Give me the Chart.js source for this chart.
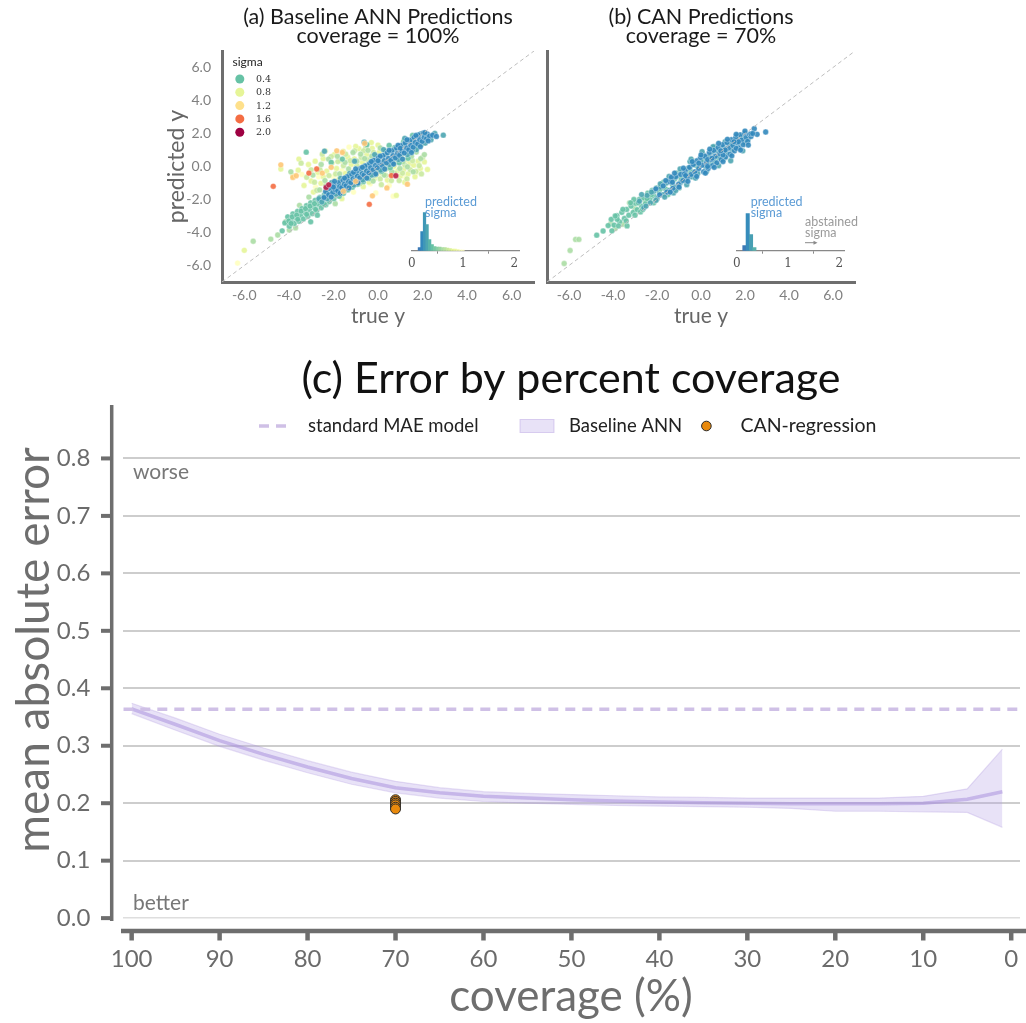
<!DOCTYPE html>
<html><head><meta charset="utf-8">
<script src="https://cdn.jsdelivr.net/npm/chart.js@4.4.1/dist/chart.umd.min.js"></script>
<style>
html,body{margin:0;padding:0;background:#fff;}
body{width:1026px;height:1023px;position:relative;overflow:hidden;}
canvas{position:absolute;}
</style></head><body>
<canvas id="ca" width="380" height="330" style="left:160px;top:0px;width:380px;height:330px"></canvas>
<canvas id="cb" width="330" height="330" style="left:540px;top:0px;width:330px;height:330px"></canvas>
<canvas id="ha" width="140" height="80" style="left:395px;top:190px;width:140px;height:80px"></canvas>
<canvas id="hb" width="140" height="80" style="left:720px;top:190px;width:140px;height:80px"></canvas>
<canvas id="cc" width="1026" height="683" style="left:0px;top:340px;width:1026px;height:683px"></canvas>
<script>
// ===================== DATA =====================
// Panels (a)/(b): axis ticks
const scatterTicks = [-6, -4, -2, 0, 2, 4, 6];
const diagonal = [-7, 7];
const sigmaLegend = [0.4, 0.8, 1.2, 1.6, 2.0];

// Panel (a): [true y, predicted y] pairs, grouped by predicted sigma
const aPts19 = [[-2.33,-1.27],[-2.21,-1.11],[0.8,-0.56]];
const aPts16 = [[-4.7,-1.2],[-0.39,-2.29],[-2.75,-0.15],[0.6,-0.55],[-3.1,-0.4]];
const aPts13 = [[-3.82,-0.66],[-3.67,-0.56],[-2.1,-0.05],[-1.0,-0.9],[-0.25,-1.78],[-0.6,1.4],[0.4,-1.3],[1.32,-1.07],[-1.55,-1.5],[-2.5,-0.4],[-1.85,0.95],[-1.6,0.85],[-4.36,0.1]];
const aPts02 = [[-2.42,-1.88],[-2.35,-1.52],[-2.21,-1.71],[-2.16,-1.33],[-2.03,-1.58],[-1.97,-1.12],[-1.92,-1.41],[-1.81,-1.47],[-1.76,-0.98],[-1.72,-1.22],[-1.63,-1.28],[-1.57,-0.83],[-1.51,-1.07],[-1.43,-1.16],[-1.38,-0.62],[-1.33,-0.91],[-1.22,-0.98],[-1.18,-0.47],[-1.12,-0.74],[-1.03,-0.83],[-0.97,-0.33],[-0.93,-0.58],[-0.82,-0.68],[-0.78,-0.12],[-0.71,-0.43],[-0.63,-0.52],[-0.58,0.03],[-0.52,-0.27],[-0.41,-0.38],[-0.37,0.18],[-0.33,-0.08],[-0.22,-0.21],[-0.18,0.37],[-0.12,0.07],[-0.03,-0.07],[0.02,0.52],[0.07,0.23],[0.18,0.08],[0.23,0.66],[0.28,0.36],[0.38,0.22],[0.42,0.83],[0.47,0.49],[0.58,0.37],[0.62,0.96],[0.67,0.66],[0.78,0.52],[0.83,1.12],[0.88,0.79],[0.97,0.68],[1.02,1.27],[1.07,0.94],[1.18,0.82],[1.22,1.42],[1.28,1.12],[1.38,1.02],[1.43,1.58],[1.47,1.29],[1.58,1.17],[1.62,1.76],[1.67,1.46],[1.78,1.36],[1.82,1.91],[1.87,1.62],[1.98,1.52],[2.03,2.02],[2.07,1.77],[2.18,1.69],[2.22,1.96],[2.31,1.84],[2.45,1.9],[2.62,1.82],
  [-2.3,-1.25],[-2.1,-1.85],[-1.95,-0.9],[-1.7,-1.62],[-1.5,-0.7],[-1.3,-1.3],[-1.1,-0.35],[-0.9,-1.0],[-0.7,-0.05],[-0.5,-0.7],[-0.3,0.3],[-0.1,-0.45],[0.1,0.62],[0.3,-0.15],[0.5,0.98],[0.7,0.15],[0.9,1.28],[1.1,0.45],[1.3,1.62],[1.5,0.85],[1.7,1.88],[1.9,1.2],[2.1,2.05],[2.25,1.55],[-1.0,-0.15],[0.0,0.35],[1.0,1.1],[-2.0,-1.25]];
const aPts03 = [[-2.65,-1.95],[-2.52,-2.15],[-2.28,-1.95],[-2.08,-0.98],[-1.88,-1.68],[-1.68,-0.72],[-1.47,-1.35],[-1.27,-0.42],[-1.08,-1.12],[-0.88,-0.22],[-0.68,-0.82],[-0.48,0.08],[-0.28,-0.52],[-0.08,0.38],[0.12,-0.22],[0.32,0.72],[0.52,0.12],[0.72,1.02],[0.92,0.42],[1.12,1.32],[1.32,0.72],[1.52,1.62],[1.72,1.02],[1.92,1.98],[2.12,1.42],[2.38,1.62],[2.55,2.0],[2.93,1.9],[-2.4,0.93],[-0.62,1.47],[-1.05,0.32],[0.25,1.02],[1.2,1.7],[-0.15,0.72],[0.65,0.25],[1.55,0.98]];
const aPts04 = [[-4.18,-3.42],[-4.05,-3.05],[-3.98,-3.62],[-3.91,-3.28],[-3.82,-2.88],[-3.76,-3.45],[-3.68,-3.1],[-3.61,-2.72],[-3.55,-3.32],[-3.47,-2.95],[-3.41,-2.55],[-3.35,-3.18],[-3.28,-2.78],[-3.21,-2.38],[-3.15,-3.02],[-3.08,-2.62],[-3.02,-2.2],[-2.95,-2.85],[-2.88,-2.45],[-2.82,-2.05],[-2.75,-2.68],[-2.68,-2.28],[-2.61,-1.88],[-2.55,-2.5],[-2.48,-2.12],[-2.41,-1.72],[-2.34,-2.32],[-2.27,-1.58],[-2.19,-2.12],[-2.12,-1.82],[-2.05,-1.45],[-1.98,-1.95],[-1.9,-1.62],[-1.82,-1.25],[-1.74,-1.8],[-1.66,-1.45],[-1.55,-1.62],[-1.45,-0.78],[-1.36,-1.42],[-1.25,-0.62],[-1.15,-1.25],[-1.02,-0.45],[-0.92,-1.08],[-0.8,-0.28],[-0.66,-0.92],[-0.55,-0.05],[-0.42,-0.72],[-0.3,0.22],[-0.15,-0.5],[0.0,0.6],[0.15,-0.3],[0.35,0.92],[0.55,-0.08],[0.75,1.15],[0.95,0.22],[1.15,1.5],[1.35,0.5],[1.55,1.88],[1.75,1.22],[1.95,1.35],[-3.22,0.87],[-0.5,1.32],[-1.6,0.45],[-2.1,0.25],[0.5,1.28],[-3.02,-3.35],[-2.72,-2.95],[-4.3,-3.9],
  [-4.0,-3.3],[-3.85,-3.05],[-3.65,-2.95],[-3.45,-2.7],[-3.25,-2.55],[-3.05,-2.4],[-2.85,-2.25],[-2.65,-2.05],[-2.45,-1.9],[-2.25,-1.75],[-3.6,-3.2],[-3.2,-2.9],[-2.8,-2.6],[-2.4,-2.3],[-2.0,-1.75],[-1.8,-1.55],[-1.6,-1.2],[-3.9,-3.45]];
const aPts06 = [[-4.5,-4.15],[-4.81,-4.4],[-5.6,-4.53],[-4.14,-3.34],[-3.98,-3.85],[-3.91,-0.32],[-3.52,-2.35],[-3.1,-1.85],[-2.92,-0.52],[-2.62,-1.42],[-2.55,0.12],[-2.38,-0.85],[-2.22,0.45],[-2.02,-1.02],[-1.82,0.62],[-1.72,-0.45],[-1.48,0.25],[-1.32,-0.15],[-1.12,0.85],[-0.95,0.32],[-0.78,0.75],[-0.6,0.48],[-0.45,0.98],[-0.28,0.62],[0.1,1.12],[0.28,-0.52],[0.45,0.82],[0.62,-0.32],[0.82,0.52],[0.98,-0.12],[1.12,0.28],[1.32,-0.02],[1.5,0.62],[1.58,-0.32],[1.72,0.88],[1.92,0.48],[2.08,0.72],[-0.22,-0.88],[-1.92,-2.25],[-3.7,-3.72]];
const aPts07 = [[-3.0,-0.2],[-2.85,-0.95],[-2.6,-0.2],[-2.5,0.75],[-2.35,-1.15],[-2.2,-0.55],[-2.1,0.6],[-1.9,-0.45],[-1.8,0.3],[-1.7,-1.1],[-1.55,0.05],[-1.45,0.75],[-1.35,-0.75],[-1.25,0.35],[-1.15,-0.95],[-1.05,0.95],[-0.95,0.05],[-0.8,-1.05],[-0.75,0.55],[-0.6,-0.3],[-0.55,1.15],[-0.45,0.4],[-0.35,-0.6],[-0.2,0.85],[-0.1,-0.3],[0.1,-0.75],[0.2,0.25],[0.35,-0.55],[0.5,-0.1],[0.6,-0.85],[0.75,-0.4],[0.85,0.3],[0.95,-0.85],[1.1,-0.4],[1.2,0.1],[1.3,-0.75],[1.45,-0.2],[1.55,0.35],[1.7,-0.3],[1.85,0.05],[1.95,-0.45],[2.0,0.55],[-3.2,-0.65],[-3.45,0.2],[-2.75,-1.45],[-0.65,0.95],[0.15,-1.1]];
const aPts08 = [[-6.0,-5.08],[-4.36,-0.15],[-3.82,-0.55],[-3.58,-0.22],[-3.32,-1.15],[-3.12,0.12],[-3.0,-0.88],[-2.82,0.32],[-2.7,-0.35],[-2.56,-1.02],[-2.46,0.48],[-2.3,-0.28],[-2.16,-1.15],[-2.06,0.22],[-1.96,0.72],[-1.86,-0.12],[-1.76,-0.78],[-1.66,0.36],[-1.56,0.92],[-1.46,-0.42],[-1.36,0.56],[-1.26,-1.28],[-1.2,0.12],[-1.06,0.46],[-0.9,-0.22],[-0.86,1.08],[-0.7,0.26],[-0.66,-1.22],[-0.5,0.72],[-0.4,-0.95],[-0.26,1.1],[-0.16,-0.72],[-0.06,-0.55],[0.05,0.85],[0.18,-0.42],[0.35,-0.15],[0.42,-0.82],[0.55,0.22],[0.66,-0.52],[0.72,0.02],[0.9,-0.25],[1.0,-0.58],[1.05,0.62],[1.15,-0.18],[1.25,0.38],[1.35,-0.45],[1.42,0.18],[1.6,0.08],[1.66,-0.62],[1.8,0.32],[1.9,-0.12],[2.08,0.28],[2.22,-0.18],[-2.9,-1.55],[-1.62,-1.95],[0.82,-1.75],[-0.3,1.45],[0.0,1.3],[-1.0,1.22],[-3.55,0.45],[-2.45,-0.62],[0.28,0.15],[1.2,-0.95],[-0.95,-0.58]];
const aPts10 = [[-6.3,-5.85],[-3.42,-0.48],[-2.66,-0.62],[-2.35,0.95],[-2.0,-0.62],[-1.62,-0.25],[-1.3,1.18],[-1.1,-0.42],[-0.82,0.05],[-0.55,-0.05],[-0.35,-1.05],[0.15,0.48],[0.3,-0.45],[0.7,-0.15],[1.2,-0.6],[1.45,0.0],[1.75,-0.35],[-2.8,-1.25],[-0.1,-1.6],[0.5,-1.15],[-1.1,-1.55],[0.68,-1.8]];
const aSigmas = [1.9, 1.6, 1.3, 0.2, 0.3, 0.4, 0.6, 0.7, 0.8, 1.0];          // top -> bottom draw order
const aGroups = [aPts19, aPts16, aPts13, aPts02, aPts03, aPts04, aPts06, aPts07, aPts08, aPts10];

// Panel (b)
const bPts02 = [[-2.05,-1.35],[-1.88,-1.72],[-1.72,-1.18],[-1.55,-1.55],[-1.42,-0.92],[-1.28,-1.32],[-1.15,-0.62],[-1.02,-1.08],[-0.92,-0.48],[-0.82,-0.85],[-0.72,-0.25],[-0.62,-0.65],[-0.52,-0.05],[-0.45,-0.48],[-0.35,0.12],[-0.28,-0.32],[-0.18,0.35],[-0.1,-0.12],[-0.02,0.55],[0.05,0.08],[0.12,-0.32],[0.18,0.62],[0.25,0.22],[0.32,-0.12],[0.38,0.85],[0.45,0.42],[0.52,0.05],[0.58,0.98],[0.65,0.62],[0.72,0.22],[0.78,1.15],[0.85,0.78],[0.92,0.42],[0.98,1.32],[1.05,0.95],[1.12,0.58],[1.18,1.45],[1.25,1.12],[1.32,0.75],[1.38,1.62],[1.45,1.28],[1.52,0.95],[1.58,1.75],[1.65,1.45],[1.72,1.12],[1.78,1.92],[1.85,1.6],[1.92,1.32],[1.98,2.02],[2.05,1.75],[2.12,1.52],[2.2,1.95],[2.27,1.82],[2.42,2.29],[2.27,1.98],[2.55,1.95],[2.94,2.09],[-1.35,-0.65],[-0.75,-0.45],[0.3,0.42],[1.0,0.7],[1.6,1.1],
  [-1.6,-0.85],[-1.4,-1.55],[-1.2,-0.4],[-1.0,-1.25],[-0.8,-0.1],[-0.6,-0.9],[-0.4,0.3],[-0.2,-0.6],[0.0,0.7],[0.2,-0.4],[0.4,1.05],[0.6,-0.05],[0.8,1.4],[1.0,0.3],[1.2,1.65],[1.4,0.65],[1.6,1.95],[1.8,1.0],[2.0,2.15],[2.15,1.3],[-0.1,0.2],[0.5,0.5],[1.1,1.0],[1.7,1.5],[-0.7,-0.55],[-1.3,-0.95],[0.9,0.95],[0.3,0.0],[1.5,1.5],[2.35,2.0]];
const bPts03 = [[-2.8,-2.1],[-2.6,-2.5],[-2.45,-1.75],[-2.3,-2.2],[-2.15,-1.5],[-2.0,-1.95],[-1.85,-1.25],[-1.7,-1.7],[-1.58,-1.0],[-1.45,-1.45],[-1.32,-0.8],[-1.2,-1.25],[-1.08,-0.55],[-0.95,-1.0],[-0.85,-0.3],[-0.7,-0.78],[-0.58,-0.1],[-0.42,-0.62],[-0.3,0.18],[-0.15,-0.42],[0.0,0.32],[0.1,0.72],[0.22,-0.05],[0.35,0.6],[0.48,0.88],[0.6,0.3],[0.75,0.95],[0.88,0.55],[1.02,1.15],[1.15,0.82],[1.3,1.35],[1.42,1.02],[1.55,1.55],[1.7,1.3],[1.85,1.82],[2.0,1.45],[2.15,1.7],[-0.5,0.3],[0.6,1.2],[-1.25,-1.6],
  [-2.7,-1.7],[-2.5,-2.4],[-2.25,-1.55],[-2.05,-2.05],[-1.85,-1.05],[-1.65,-1.85],[-1.45,-0.6],[-1.15,-1.45],[-0.95,-0.15],[-0.65,-1.1],[-0.45,0.45],[-0.25,-0.7],[0.05,0.9],[0.25,-0.3],[0.55,1.2],[0.8,0.05],[1.1,1.5],[1.35,0.35],[1.65,1.85],[1.9,0.95]];
const bPts04 = [[-4.22,-3.58],[-4.08,-3.2],[-3.95,-3.55],[-3.82,-2.98],[-3.7,-3.35],[-3.6,-2.78],[-3.48,-3.15],[-3.38,-2.6],[-3.28,-2.95],[-3.18,-2.4],[-3.08,-2.78],[-2.98,-2.22],[-2.9,-2.62],[-2.8,-2.0],[-2.7,-2.4],[-2.6,-1.9],[-2.52,-2.25],[-2.42,-1.62],[-2.32,-2.0],[-2.22,-1.45],[-2.12,-1.82],[-2.02,-1.3],[-1.9,-1.55],[-1.78,-1.05],[-1.62,-1.35],[-1.48,-0.78],[-1.3,-1.08],[-1.1,-0.4],[-0.9,-0.75],[-0.65,-0.45],[-0.4,0.35],[-0.2,0.05],[0.15,0.48],[0.4,0.15],[0.7,0.5],[1.05,0.5],[1.4,1.35],[-3.36,-3.6],[-3.81,-3.2],[-4.74,-4.16],[-4.45,-3.91],[-4.05,-3.9],[-2.75,-2.75],[-2.15,-2.2],[-1.5,-1.7],[-3.05,-2.0],
  [-3.9,-3.0],[-3.75,-3.6],[-3.55,-2.6],[-3.4,-3.3],[-3.2,-2.2],[-3.0,-2.95],[-2.85,-2.2],[-2.65,-2.6],[-2.45,-1.95],[-2.25,-1.7],[-2.05,-2.05],[-1.85,-1.35],[-1.7,-0.95],[-1.2,-0.75],[-1.0,-1.3],[-0.5,-0.2]];
const bPts06 = [[-5.7,-4.42],[-5.55,-4.42],[-5.95,-5.09],[-6.22,-5.88],[-4.1,-3.45],[-3.9,-3.75],[-3.55,-3.5],[-3.0,-2.55],[-2.55,-2.05],[-3.25,-2.2]];
const bSigmas = [0.2, 0.3, 0.4, 0.6];
const bGroups = [bPts02, bPts03, bPts04, bPts06];

// Inset histograms of predicted sigma
const histTicks = [0, 1, 2];
const hABins   = [0.15,0.2,0.25,0.3,0.35,0.4,0.45,0.5,0.55,0.6,0.65,0.7,0.75,0.8,0.85,0.9,0.95,1.0];
const hACounts = [3,19,38,26,11,6,4,3.5,3.5,3,3,2.5,2,1.5,1.5,1,0.5,0.5];
const hBBins   = [0.15,0.215,0.28,0.345];
const hBCounts = [5,37,16,3];

// Panel (c): error by percent coverage
const coverage = [100,95,90,85,80,75,70,65,60,55,50,45,40,35,30,25,20,15,10,5,1];
const annMedian = [0.364,0.337,0.309,0.285,0.263,0.243,0.227,0.218,0.212,0.209,0.206,0.204,0.202,0.201,0.200,0.199,0.199,0.199,0.200,0.207,0.220];
const annUpper  = [0.374,0.348,0.320,0.296,0.274,0.254,0.238,0.227,0.220,0.217,0.215,0.213,0.211,0.210,0.209,0.209,0.209,0.209,0.212,0.225,0.294];
const annLower  = [0.356,0.327,0.299,0.275,0.253,0.233,0.218,0.209,0.203,0.200,0.198,0.196,0.195,0.194,0.193,0.191,0.186,0.186,0.185,0.184,0.158];
const standardMAE = 0.3635;
const canCoverage = [70,70,70,70,70,70];
const canMAE = [0.206,0.203,0.200,0.197,0.193,0.190];
const covTicks = [100,90,80,70,60,50,40,30,20,10,0];
const maeTicks = [0,0.1,0.2,0.3,0.4,0.5,0.6,0.7,0.8];

// ===================== STYLE HELPERS =====================
const SPECTRAL_R = ['#5e4fa2','#3288bd','#66c2a5','#abdda4','#e6f598','#ffffbf','#fee08b','#fdae61','#f46d43','#d53e4f','#9e0142'];
function hexRgb(h){return [parseInt(h.substr(1,2),16),parseInt(h.substr(3,2),16),parseInt(h.substr(5,2),16)];}
function cmap(s, a){
  const t = Math.max(0, Math.min(1, s/2)) * 10;
  const i = Math.min(9, Math.floor(t)), f = t - i;
  const c0 = hexRgb(SPECTRAL_R[i]), c1 = hexRgb(SPECTRAL_R[i+1]);
  const c = c0.map((v,k)=>Math.round(v + (c1[k]-v)*f));
  return `rgba(${c[0]},${c[1]},${c[2]},${a===undefined?1:a})`;
}
const FONT = 'Lato, "Open Sans", sans-serif';
const SPINE = '#6e6e6e';
const noPad = s => { s.paddingLeft = 0; s.paddingRight = 0; };

function scatterDatasets(sigmas, groups){
  const ds = [{
    type:'line', data: diagonal.map(v=>({x:v,y:v})), borderColor:'#bdbdbd', borderWidth:1,
    borderDash:[4,3], pointRadius:0, fill:false
  }];
  sigmas.forEach((s,i)=>{
    ds.push({
      data: groups[i].map(p=>({x:p[0], y:p[1]})),
      backgroundColor: cmap(s, 0.9), borderColor:'rgba(255,255,255,0.7)', borderWidth:0.5,
      pointRadius:2.9, pointHoverRadius:2.9
    });
  });
  return ds;
}

function scatterOptions(showY, padLeftAxis){
  return {
    responsive:false, animation:false, events:[],
    layout:{padding:{top:51, right: showY?6:15, left:0, bottom:0}},
    plugins:{legend:{display:false}, tooltip:{enabled:false}},
    scales:{
      x:{type:'linear', min:-7, max:7,
         afterBuildTicks: s=>{ s.ticks = scatterTicks.map(v=>({value:v})); },
         afterFit: s=>{ s.height = 48; noPad(s); },
         ticks:{callback:v=>v.toFixed(1), color:'#808080', font:{family:FONT,size:14}, padding:5, maxRotation:0, autoSkip:false},
         grid:{display:false, drawTicks:false}, border:{display:true, color:SPINE, width:3}},
      y:{type:'linear', min:-7, max:7,
         afterBuildTicks: s=>{ s.ticks = scatterTicks.map(v=>({value:v})); },
         afterFit: s=>{ s.width = padLeftAxis; },
         ticks:{display:showY, callback:v=>v.toFixed(1), color:'#808080', font:{family:FONT,size:14}, padding:11, autoSkip:false},
         grid:{display:false, drawTicks:false}, border:{display:true, color:SPINE, width:3}}
    }
  };
}

function scatterDeco(t1, t2, yTitle, legend){
  return {id:'deco', afterDraw(chart){
    const {ctx, chartArea:ca} = chart; const cx=(ca.left+ca.right)/2;
    ctx.save();
    ctx.textAlign='center'; ctx.textBaseline='middle';
    ctx.fillStyle='#1a1a1a'; ctx.font='21.5px '+FONT;
    ctx.fillText(t1, cx, 17); ctx.fillText(t2, cx, 36.5);
    ctx.fillStyle='#666'; ctx.font='21px '+FONT;
    ctx.fillText('true y', cx, 316);
    if (yTitle){
      ctx.save(); ctx.translate(17,(ca.top+ca.bottom)/2); ctx.rotate(-Math.PI/2);
      ctx.font='23px '+FONT; ctx.fillText('predicted y',0,0); ctx.restore();
    }
    if (legend){
      ctx.textAlign='left'; ctx.fillStyle='#222'; ctx.font='12px '+FONT;
      ctx.fillText('sigma', 72.5, 62.5);
      ctx.font='9.5px "DejaVu Serif", serif';
      sigmaLegend.forEach((s,i)=>{
        const y = 79 + i*13.3;
        ctx.beginPath(); ctx.arc(79.8, y, 4.5, 0, Math.PI*2);
        ctx.fillStyle = cmap(s, 1); ctx.fill();
        ctx.fillStyle='#333'; ctx.fillText(s.toFixed(1), 96, y+0.5);
      });
    }
    ctx.restore();
  }};
}

new Chart(document.getElementById('ca'), {
  type:'scatter',
  data:{datasets: scatterDatasets(aSigmas, aGroups)},
  options: scatterOptions(true, 62),
  plugins:[scatterDeco('(a) Baseline ANN Predictions','coverage = 100%', true, true)]
});
new Chart(document.getElementById('cb'), {
  type:'scatter',
  data:{datasets: scatterDatasets(bSigmas, bGroups)},
  options: scatterOptions(false, 7),
  plugins:[scatterDeco('(b) CAN Predictions','coverage = 70%', false, false)]
});

// ----- inset histograms -----
function histChart(id, bins, counts, abstained){
  new Chart(document.getElementById(id), {
    type:'bar',
    data:{datasets:[{
      data: bins.map((b,i)=>({x:b, y:counts[i]})),
      backgroundColor: bins.map(b=>cmap(b,1)), borderWidth:0,
      barPercentage:1, categoryPercentage:1
    }]},
    options:{
      responsive:false, animation:false, events:[],
      layout:{padding:{top:20.7, left:16.7, right:15.6, bottom:0}},
      plugins:{legend:{display:false}, tooltip:{enabled:false}},
      scales:{
        x:{type:'linear', min:0, max:2.1, offset:false,
           afterBuildTicks: s=>{ s.ticks = histTicks.map(v=>({value:v})); },
           afterFit: s=>{ s.height = 19.3; noPad(s); },
           ticks:{color:'#555', font:{family:'"DejaVu Serif", serif', size:12}, padding:3, maxRotation:0},
           grid:{display:true, drawOnChartArea:false, drawTicks:true, tickLength:3, color:'#888', lineWidth:1},
           border:{display:true, color:'#888', width:1.3}},
        y:{display:false, min:0, max:40}
      }
    },
    plugins:[{id:'htext', afterDraw(chart){
      const ctx = chart.ctx; ctx.save();
      ctx.textAlign='left'; ctx.textBaseline='middle'; ctx.font='12.5px '+FONT;
      ctx.fillStyle='#5b9bd5';
      const px = abstained ? 30.7 : 30;
      ctx.fillText('predicted', px, 11.7); ctx.fillText('sigma', px, 23.3);
      if (abstained){
        ctx.fillStyle='#9a9a9a';
        ctx.fillText('abstained', 85, 31.7); ctx.fillText('sigma', 85, 43.3);
        ctx.strokeStyle='#8a8a8a'; ctx.lineWidth=1;
        ctx.beginPath(); ctx.moveTo(85,52.7); ctx.lineTo(96,52.7); ctx.stroke();
        ctx.fillStyle='#8a8a8a'; ctx.beginPath(); ctx.moveTo(97.5,52.7); ctx.lineTo(93.5,50.7); ctx.lineTo(93.5,54.7); ctx.closePath(); ctx.fill();
      }
      ctx.restore();
    }}]
  });
}
histChart('ha', hABins, hACounts, false);
histChart('hb', hBBins, hBCounts, true);

// ----- panel (c) -----
const X_MIN = -1.0, X_MAX = 100.95;
const bandFill = 'rgba(180,160,230,0.30)';
const bandEdge = 'rgba(170,145,220,0.28)';
new Chart(document.getElementById('cc'), {
  type:'scatter',
  data:{datasets:[
    {label:'CAN-regression', data: canCoverage.map((c,i)=>({x:c, y:canMAE[i]})),
     backgroundColor:'#e8890c', borderColor:'#2b2b2b', borderWidth:1, pointRadius:5, pointHoverRadius:5},
    {type:'line', label:'standard MAE model', data:[{x:X_MAX,y:standardMAE},{x:X_MIN,y:standardMAE}],
     borderColor:'#cfc0e6', borderWidth:3.5, borderDash:[10,7], pointRadius:0, fill:false},
    {type:'line', label:'Baseline ANN median', data: coverage.map((c,i)=>({x:c,y:annMedian[i]})),
     borderColor:'rgba(170,145,220,0.55)', borderWidth:3.5, pointRadius:0, fill:false, tension:0},
    {type:'line', label:'Baseline ANN upper', data: coverage.map((c,i)=>({x:c,y:annUpper[i]})),
     borderColor:bandEdge, borderWidth:1.2, pointRadius:0, fill:4, backgroundColor:bandFill, tension:0},
    {type:'line', label:'Baseline ANN lower', data: coverage.map((c,i)=>({x:c,y:annLower[i]})),
     borderColor:bandEdge, borderWidth:1.2, pointRadius:0, fill:false, tension:0}
  ]},
  options:{
    responsive:false, animation:false, events:[],
    layout:{padding:{top:65, left:0, right:0, bottom:0}},
    plugins:{legend:{display:false}, tooltip:{enabled:false}},
    scales:{
      x:{type:'linear', reverse:true, min:X_MIN, max:X_MAX,
         afterBuildTicks: s=>{ s.ticks = covTicks.map(v=>({value:v})); },
         afterFit: s=>{ s.height = 102; noPad(s); },
         ticks:{color:'#6b6b6b', font:{family:FONT,size:24}, padding:24, maxRotation:0, autoSkip:false},
         grid:{display:false, drawTicks:false}, border:{display:false}},
      y:{type:'linear', min:-0.005, max:0.893,
         afterBuildTicks: s=>{ s.ticks = maeTicks.map(v=>({value:v})); },
         afterFit: s=>{ s.width = 123.3; },
         ticks:{callback:v=>v.toFixed(1), color:'#6b6b6b', font:{family:FONT,size:24}, padding:33, autoSkip:false},
         grid:{display:true, drawTicks:false, color: c=> (c.tick && c.tick.value===0) ? '#dedede' : '#cdcdcd',
               lineWidth: c=> (c.tick && c.tick.value===0) ? 1.5 : 2},
         border:{display:false}}
    }
  },
  plugins:[{id:'cdeco', afterDraw(chart){
    const {ctx, chartArea:ca, scales} = chart;
    ctx.save();
    // spines
    ctx.strokeStyle=SPINE; ctx.lineCap='butt';
    ctx.lineWidth=3.5; ctx.beginPath(); ctx.moveTo(111.7, ca.top); ctx.lineTo(111.7, ca.bottom); ctx.stroke();
    ctx.lineWidth=4;
    maeTicks.forEach(v=>{ const y=scales.y.getPixelForValue(v); ctx.beginPath(); ctx.moveTo(101,y); ctx.lineTo(111.7,y); ctx.stroke(); });
    const sy = ca.bottom + 10;
    ctx.lineWidth=4.5; ctx.beginPath(); ctx.moveTo(121, sy); ctx.lineTo(1026, sy); ctx.stroke();
    covTicks.forEach(v=>{ const x=scales.x.getPixelForValue(v); ctx.beginPath(); ctx.moveTo(x, sy+2); ctx.lineTo(x, sy+9.5); ctx.stroke(); });
    // title
    ctx.textAlign='center'; ctx.textBaseline='middle';
    ctx.fillStyle='#111'; ctx.font='43px '+FONT;
    ctx.fillText('(c) Error by percent coverage', 571, 39);
    // axis titles
    ctx.fillStyle='#6e6e6e'; ctx.font='44px '+FONT;
    ctx.fillText('coverage (%)', 571, 657);
    ctx.save(); ctx.translate(34, 310); ctx.rotate(-Math.PI/2);
    ctx.font='46px '+FONT; ctx.fillText('mean absolute error', 0, 0); ctx.restore();
    // worse / better
    ctx.textAlign='left'; ctx.fillStyle='#777'; ctx.font='21px '+FONT;
    ctx.fillText('worse', 133, 132); ctx.fillText('better', 133, 563);
    // legend
    const ly = 86;
    ctx.strokeStyle='#cfc0e6'; ctx.lineWidth=3.5; ctx.setLineDash([10,7]);
    ctx.beginPath(); ctx.moveTo(259,ly); ctx.lineTo(293,ly); ctx.stroke(); ctx.setLineDash([]);
    ctx.fillStyle='#222'; ctx.font='18.5px '+FONT;
    ctx.fillText('standard MAE model', 308, ly);
    ctx.fillStyle=bandFill; ctx.fillRect(520, ly-6.5, 34, 13);
    ctx.strokeStyle='rgba(170,145,220,0.4)'; ctx.lineWidth=1; ctx.strokeRect(520, ly-6.5, 34, 13);
    ctx.fillStyle='#222'; ctx.fillText('Baseline ANN', 569, ly);
    ctx.beginPath(); ctx.arc(706.4, ly, 4.8, 0, Math.PI*2); ctx.fillStyle='#e8890c'; ctx.fill();
    ctx.strokeStyle='#2b2b2b'; ctx.lineWidth=1; ctx.stroke();
    ctx.fillStyle='#222'; ctx.font='19.5px '+FONT; ctx.fillText('CAN-regression', 740.5, ly);
    ctx.restore();
  }}]
});
</script>
</body></html>
